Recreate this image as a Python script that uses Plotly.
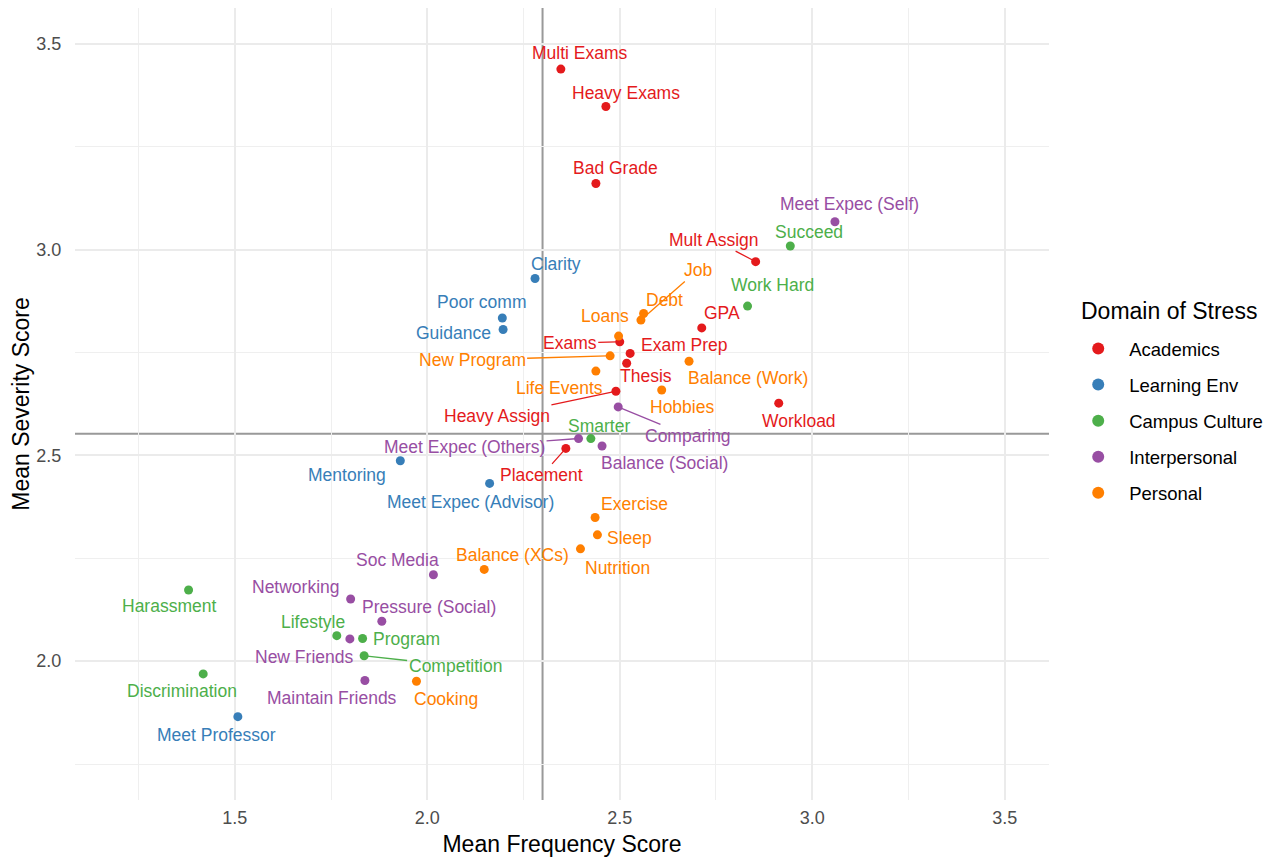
import plotly.graph_objects as go

# ---- data ----
domains = ["Academics", "Learning Env", "Campus Culture", "Interpersonal", "Personal"]
colors = ["#E41A1C", "#377EB8", "#4DAF4A", "#984EA3", "#FF7F00"]

acad_labels = ["Multi Exams", "Heavy Exams", "Bad Grade", "Mult Assign", "GPA", "Exams",
               "Exam Prep", "Thesis", "Heavy Assign", "Workload", "Placement"]
acad_freq = [2.347, 2.464, 2.438, 2.853, 2.713, 2.500, 2.527, 2.518, 2.490, 2.913, 2.360]
acad_sev = [3.439, 3.348, 3.161, 2.971, 2.810, 2.776, 2.748, 2.724, 2.656, 2.627, 2.517]

learn_labels = ["Clarity", "Poor comm", "Guidance", "Mentoring", "Meet Expec (Advisor)", "Meet Professor"]
learn_freq = [2.280, 2.195, 2.197, 1.930, 2.162, 1.508]
learn_sev = [2.930, 2.834, 2.806, 2.487, 2.432, 1.865]

campus_labels = ["Succeed", "Work Hard", "Smarter", "Harassment", "Lifestyle", "Program",
                 "Competition", "Discrimination"]
campus_freq = [2.943, 2.832, 2.425, 1.380, 1.765, 1.832, 1.836, 1.418]
campus_sev = [3.009, 2.863, 2.541, 2.173, 2.062, 2.055, 2.013, 1.969]

inter_labels = ["Meet Expec (Self)", "Comparing", "Meet Expec (Others)", "Balance (Social)",
                "Soc Media", "Networking", "Pressure (Social)", "New Friends", "Maintain Friends"]
inter_freq = [3.059, 2.496, 2.393, 2.454, 2.016, 1.801, 1.882, 1.799, 1.838]
inter_sev = [3.068, 2.618, 2.541, 2.523, 2.210, 2.151, 2.097, 2.054, 1.953]

pers_labels = ["Job", "Debt", "Loans", "New Program", "Life Events", "Balance (Work)", "Hobbies",
               "Exercise", "Sleep", "Nutrition", "Balance (XCs)", "Cooking"]
pers_freq = [2.555, 2.562, 2.497, 2.475, 2.438, 2.680, 2.609, 2.436, 2.442, 2.398, 2.148, 1.972]
pers_sev = [2.829, 2.845, 2.790, 2.742, 2.705, 2.729, 2.659, 2.349, 2.307, 2.273, 2.223, 1.951]

groups = [
    (acad_labels, acad_freq, acad_sev),
    (learn_labels, learn_freq, learn_sev),
    (campus_labels, campus_freq, campus_sev),
    (inter_labels, inter_freq, inter_sev),
    (pers_labels, pers_freq, pers_sev),
]

# label placement (pixel offsets of label centre from point; True = connector segment)
label_pos = {
    "Multi Exams": (19, -16, False), "Heavy Exams": (20, -14, False), "Bad Grade": (20, -15, False),
    "Mult Assign": (-42, -22, True), "GPA": (20, -15, False), "Exams": (-50, 1, True),
    "Exam Prep": (54, -8, False), "Thesis": (19, 13, False), "Heavy Assign": (-119, 25, True),
    "Workload": (20, 18, False), "Placement": (-24, 27, True),
    "Clarity": (21, -15, False), "Poor comm": (-21, -16, False), "Guidance": (-50, 3, False),
    "Mentoring": (-53, 14, False), "Meet Expec (Advisor)": (-19, 19, False),
    "Meet Professor": (-21, 18, False),
    "Succeed": (19, -14, False), "Work Hard": (25, -21, False), "Smarter": (8, -13, False),
    "Harassment": (-20, 16, False), "Lifestyle": (-24, -14, False), "Program": (44, 0, False),
    "Competition": (91, 10, True), "Discrimination": (-21, 17, False),
    "Meet Expec (Self)": (15, -18, False), "Comparing": (70, 29, True),
    "Meet Expec (Others)": (-114, 8, True), "Balance (Social)": (62, 17, False),
    "Soc Media": (-36, -15, False), "Networking": (-55, -12, False),
    "Pressure (Social)": (47, -14, False), "New Friends": (-46, 18, False),
    "Maintain Friends": (-33, 18, False),
    "Job": (57, -50, True), "Debt": (21, -13, False), "Loans": (-14, -20, False),
    "New Program": (-138, 4, True), "Life Events": (-36, 17, False),
    "Balance (Work)": (59, 17, False), "Hobbies": (20, 17, False), "Exercise": (39, -14, False),
    "Sleep": (32, 3, False), "Nutrition": (37, 19, False), "Balance (XCs)": (28, -14, False),
    "Cooking": (30, 18, False),
}

FONT = "Liberation Sans, Arial, Helvetica, sans-serif"
fig = go.Figure()
annotations = []
all_x, all_y = [], []
for dom, col, (labs, xs, ys) in zip(domains, colors, groups):
    all_x += xs
    all_y += ys
    fig.add_trace(go.Scatter(
        x=xs, y=ys, mode="markers", name=dom, text=labs, legendgroup=dom,
        marker=dict(color=col, size=9, line=dict(width=0)),
        hoverinfo="text+x+y",
    ))
    for lab, xv, yv in zip(labs, xs, ys):
        dx, dy, seg = label_pos[lab]
        a = dict(x=xv, y=yv, text=lab, font=dict(family=FONT, size=17.5, color=col))
        if seg:
            a.update(showarrow=True, ax=dx, ay=dy, arrowhead=0, arrowwidth=1.3,
                     arrowcolor=col, standoff=3)
        else:
            a.update(showarrow=False, xshift=dx, yshift=-dy)
        annotations.append(a)

# legend title as a text annotation (gives ggplot-like spacing above the keys)
annotations.append(dict(
    xref="paper", yref="paper", x=1.0308, y=0.6174, xanchor="left", yanchor="middle",
    showarrow=False, text="Domain of Stress", font=dict(family=FONT, size=23, color="#000"),
))

mean_x = sum(all_x) / len(all_x)
mean_y = sum(all_y) / len(all_y)

fig.add_shape(type="line", xref="x", yref="paper", x0=mean_x, x1=mean_x, y0=0, y1=1,
              line=dict(color="#999999", width=2), layer="below")
fig.add_shape(type="line", xref="paper", yref="y", x0=0, x1=1, y0=mean_y, y1=mean_y,
              line=dict(color="#999999", width=2), layer="below")

axis_common = dict(
    showline=False, zeroline=False, showgrid=True, gridcolor="#EBEBEB", gridwidth=1.6,
    tickcolor="rgba(0,0,0,0)", ticks="outside",
    tickfont=dict(family=FONT, size=18, color="#4D4D4D"),
    minor=dict(dtick=0.25, showgrid=True, gridcolor="#EFEFEF", gridwidth=1),
)
fig.update_xaxes(range=[1.085, 3.615], tick0=1.5, dtick=0.5, tickformat=".1f", ticklen=1,
                 title=dict(text="Mean Frequency Score", font=dict(family=FONT, size=23, color="#000"),
                            standoff=9),
                 **axis_common)
fig.update_yaxes(range=[1.6625, 3.5875], tick0=2.0, dtick=0.5, tickformat=".1f", ticklen=9,
                 title=dict(text="Mean Severity Score", font=dict(family=FONT, size=23, color="#000"),
                            standoff=0),
                 **axis_common)

fig.update_layout(
    width=1272, height=858,
    margin=dict(l=75, r=223, t=8, b=58, autoexpand=False),
    paper_bgcolor="white", plot_bgcolor="white",
    annotations=annotations,
    showlegend=True,
    legend=dict(
        font=dict(family=FONT, size=18.5, color="#000"),
        x=1.0187, xanchor="left", y=0.4785, yanchor="middle",
        tracegroupgap=9, itemsizing="constant", itemwidth=52,
    ),
)

fig.write_html("out.html", config={"displayModeBar": False},
               post_script="document.body.style.margin='0';")
